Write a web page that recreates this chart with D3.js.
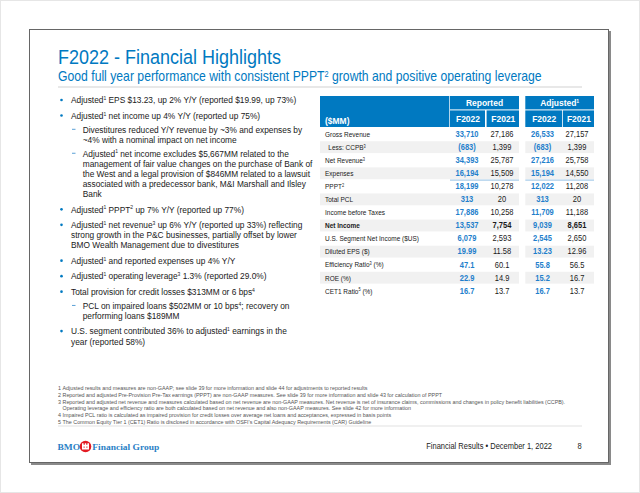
<!DOCTYPE html>
<html><head><meta charset="utf-8">
<script src="https://cdn.jsdelivr.net/npm/d3@7"></script>
<style>
html,body{margin:0;padding:0;background:#fff;}
svg{display:block;}
</style></head>
<body><svg id="c" width="640" height="493"></svg>
<script>
// ---------- DATA ----------
const titleText = "F2022 - Financial Highlights";
const subtitleText = "Good full year performance with consistent PPPT^2 growth and positive operating leverage";

const bulletLevels = [0,0,1,1,0,0,0,0,0,1,0];
const bulletLines = [
  ["Adjusted^1 EPS $13.23, up 2% Y/Y (reported $19.99, up 73%)"],
  ["Adjusted^1 net income up 4% Y/Y (reported up 75%)"],
  ["Divestitures reduced Y/Y revenue by ~3% and expenses by","~4% with a nominal impact on net income"],
  ["Adjusted^1 net income excludes $5,667MM related to the","management of fair value changes on the purchase of Bank of","the West and a legal provision of $846MM related to a lawsuit","associated with a predecessor bank, M&I Marshall and Ilsley","Bank"],
  ["Adjusted^1 PPPT^2 up 7% Y/Y (reported up 77%)"],
  ["Adjusted^1 net revenue^3 up 6% Y/Y (reported up 33%) reflecting","strong growth in the P&C businesses, partially offset by lower","BMO Wealth Management due to divestitures"],
  ["Adjusted^1 and reported expenses up 4% Y/Y"],
  ["Adjusted^1 operating leverage^3 1.3% (reported 29.0%)"],
  ["Total provision for credit losses $313MM or 6 bps^4"],
  ["PCL on impaired loans $502MM or 10 bps^4; recovery on","performing loans $189MM"],
  ["U.S. segment contributed 36% to adjusted^1 earnings in the","year (reported 58%)"]
];

const groupLabels = ["Reported","Adjusted^1"];
const yearLabels = ["F2022","F2021"];
const unitLabel = "($MM)";
const rowLabels = ["Gross Revenue","Less: CCPB^3","Net Revenue^3","Expenses","PPPT^2","Total PCL","Income before Taxes","Net Income","U.S. Segment Net Income ($US)","Diluted EPS ($)","Efficiency Ratio^3 (%)","ROE (%)","CET1 Ratio^5 (%)"];
const rowKinds = ["mm","mm","mm","mm","mm","mm","mm","mm","mm","eps","pct","pct","pct"];
const reportedF2022 = [33710,-683,34393,16194,18199,313,17886,13537,6079,19.99,47.1,22.9,16.7];
const reportedF2021 = [27186,1399,25787,15509,10278,20,10258,7754,2593,11.58,60.1,14.9,13.7];
const adjustedF2022 = [26533,-683,27216,15194,12022,313,11709,9039,2545,13.23,55.8,15.2,16.7];
const adjustedF2021 = [27157,1399,25758,14550,11208,20,11188,8651,2650,12.96,56.5,16.7,13.7];

const footnoteNums = ["1","2","3","","4","5"];
const footnoteLines = [
  "Adjusted results and measures are non-GAAP; see slide 39 for more information and slide 44 for adjustments to reported results",
  "Reported and adjusted Pre-Provision Pre-Tax earnings (PPPT) are non-GAAP measures. See slide 39 for more information and slide 43 for calculation of PPPT",
  "Reported and adjusted net revenue and measures calculated based on net revenue are non-GAAP measures. Net revenue is net of insurance claims, commissions and changes in policy benefit liabilities (CCPB).",
  "Operating leverage and efficiency ratio are both calculated based on net revenue and also non-GAAP measures. See slide 42 for more information",
  "Impaired PCL ratio is calculated as impaired provision for credit losses over average net loans and acceptances, expressed in basis points",
  "The Common Equity Tier 1 (CET1) Ratio is disclosed in accordance with OSFI\u2019s Capital Adequacy Requirements (CAR) Guideline"
];
const footerLeft = ["BMO","Financial Group"];
const footerRight = "Financial Results \u2022 December 1, 2022";
const pageNumber = "8";

// ---------- DRAW ----------
const BLUE = "#0079c1";
const SANS = "Liberation Sans, Arial, sans-serif";
const SERIF = "Liberation Serif, Times New Roman, serif";
const svg = d3.select("#c");

function fillRich(sel, str, size){
  str.split(/(\^\d)/).forEach(p=>{
    if(!p) return;
    if(p[0]==="^") sel.append("tspan").attr("baseline-shift","super").attr("font-size", size*0.6).text(p.slice(1));
    else sel.append("tspan").text(p);
  });
}
function measure(str, size, weight, family){
  const t = svg.append("text").attr("font-family",family||SANS).attr("font-size",size).attr("font-weight",weight||"normal");
  fillRich(t, str, size);
  const w = t.node().getComputedTextLength();
  t.remove();
  return w;
}
function fitK(str, size, weight, target, family){ return target / measure(str,size,weight,family); }
// text drawn condensed horizontally by factor k
function T(str, o){
  const t = svg.append("text")
    .attr("transform",`translate(${o.x},${o.y}) scale(${o.k||1},1)`)
    .attr("font-family",o.family||SANS).attr("font-size",o.size)
    .attr("font-weight",o.weight||"normal").attr("fill",o.fill||"#1a1a1a")
    .attr("text-anchor",o.anchor||"start");
  fillRich(t, str, o.size);
  return t;
}

// page frame
svg.append("rect").attr("x",0.5).attr("y",0.5).attr("width",639).attr("height",492).attr("fill","#fff").attr("stroke","#e6e6e6");
svg.append("rect").attr("x",31).attr("y",31).attr("width",580).attr("height",434).attr("fill","#8a8a8a");
svg.append("rect").attr("x",29.5).attr("y",29.5).attr("width",579).attr("height",433).attr("fill","#fff").attr("stroke","#666");

// title + subtitle
const kTitle = fitK(titleText, 19.5, "normal", 223);
T(titleText, {x:58, y:64, size:19.5, k:kTitle, fill:BLUE});
const kSub = fitK(subtitleText, 14, "normal", 484);
T(subtitleText, {x:58, y:81, size:14, k:kSub, fill:BLUE});
svg.append("line").attr("x1",58).attr("x2",582).attr("y1",87).attr("y2",87).attr("stroke","#e8e8e8").attr("stroke-width",2);

// bullets
const bSize = 9.4;
const kB = fitK(bulletLines[0][0], bSize, "normal", 225);
let y = 100;
bulletLines.forEach((lines,i)=>{
  const lvl = bulletLevels[i];
  if(i>0) y += (lvl===0 ? 15.5 : 13.8);
  if(lvl===0) svg.append("circle").attr("cx",61.5).attr("cy",y).attr("r",1.3).attr("fill",BLUE);
  else svg.append("line").attr("x1",72).attr("x2",75.5).attr("y1",y).attr("y2",y).attr("stroke","#5aa0d6").attr("stroke-width",1);
  lines.forEach((ln,j)=>{
    T(ln, {x: lvl===0?71:82.7, y: y+3.3, size:bSize, k:kB});
    if(j<lines.length-1) y += 10.15;
  });
});

// table
const rowIdx = d3.range(rowLabels.length);
const yRow = d3.scaleBand().domain(rowIdx).range([127.6, 297.3]);
const cols = ["rep22","rep21","adj22","adj21"];
const colData = {rep22:reportedF2022, rep21:reportedF2021, adj22:adjustedF2022, adj21:adjustedF2021};
const xCenter = d3.scaleOrdinal().domain(cols).range([467,502,542.5,577]);
const xLeft = d3.scaleOrdinal().domain(cols).range([450,486.6,525.3,562.8]);
const xRight = d3.scaleOrdinal().domain(cols).range([485,519,562,594]);
const groupX = d3.scaleOrdinal().domain(groupLabels).range([[450,519],[525.3,594]]);

const fmtInt = d3.format(",");
function fmt(v,kind){
  if(kind==="eps") return d3.format(".2f")(v);
  if(kind==="pct") return d3.format(".1f")(v);
  return v<0 ? "("+fmtInt(-v)+")" : fmtInt(v);
}

const hSize = 8.2;
const kH = fitK("F2022", hSize, "bold", 24);
svg.append("rect").attr("x",320).attr("y",96).attr("width",129.3).attr("height",31).attr("fill",BLUE);
T(unitLabel, {x:325, y:123.5, size:hSize, weight:"bold", fill:"#fff", k:kH});
groupLabels.forEach(g=>{
  const [a,b] = groupX(g);
  svg.append("rect").attr("x",a).attr("y",96).attr("width",b-a).attr("height",13.4).attr("fill",BLUE);
  T(g, {x:(a+b)/2, y:105.8, size:hSize, weight:"bold", fill:"#fff", anchor:"middle", k:kH});
});
cols.forEach((c,i)=>{
  svg.append("rect").attr("x",xLeft(c)).attr("y",110.4).attr("width",xRight(c)-xLeft(c)).attr("height",16.6).attr("fill",BLUE);
  T(yearLabels[i%2], {x:(xLeft(c)+xRight(c))/2+0.5, y:122.3, size:hSize, weight:"bold", fill:"#fff", anchor:"middle", k:kH});
});

rowIdx.filter(i=>i%2===1).forEach(i=>{
  svg.append("rect").attr("x",320).attr("y",yRow(i)+0.6).attr("width",199).attr("height",yRow.bandwidth()-1.2).attr("fill","#f1f1f1");
  svg.append("rect").attr("x",525.3).attr("y",yRow(i)+0.6).attr("width",68.7).attr("height",yRow.bandwidth()-1.2).attr("fill","#f1f1f1");
});
const expIdx = rowLabels.indexOf("Expenses");
groupLabels.forEach(g=>{
  const [a,b] = groupX(g);
  const ly = yRow(expIdx)+yRow.bandwidth()+0.3;
  svg.append("line").attr("x1",a).attr("x2",b).attr("y1",ly).attr("y2",ly).attr("stroke","#a9cdea").attr("stroke-width",1.3);
});

const lSize = 7.9;
const kL = fitK("Gross Revenue", lSize, "normal", 45);
const nSize = 8.3;
const kN = fitK("33,710", nSize, "bold", 23);
rowIdx.forEach(i=>{
  const cy = yRow(i)+yRow.bandwidth()/2 + 2.8;
  const bold = rowLabels[i]==="Net Income";
  T(rowLabels[i], {x: i===1?328.3:325, y:cy, size:lSize, k:kL, weight: bold?"bold":"normal"});
  cols.forEach(c=>{
    const is22 = c.endsWith("22");
    T(fmt(colData[c][i], rowKinds[i]), {x:xCenter(c), y: cy + (i===10 ? 1 : 0), size:nSize, k:kN, anchor:"middle",
      weight:(is22||bold)?"bold":"normal", fill: is22 ? "#1f7fcc" : "#1a1a1a"});
  });
});

// footnotes
const fSize = 5.6;
const kF = fitK(footnoteLines[0], fSize, "normal", 305);
const fy = d3.scaleLinear().domain([0,5]).range([389.8,424.1]);
footnoteLines.forEach((ln,i)=>{
  if(footnoteNums[i]) T(footnoteNums[i], {x:58, y:fy(i), size:fSize, k:kF, fill:"#555"});
  T(ln, {x:62.5, y:fy(i), size:fSize, k:kF, fill:"#555"});
});
svg.append("line").attr("x1",58).attr("x2",582).attr("y1",426).attr("y2",426).attr("stroke","#e2e2e2").attr("stroke-width",1.2);

// footer
const kS = fitK(footerLeft[1], 8.6, "bold", 67, SERIF);
T(footerLeft[0], {x:57.5, y:449.5, size:8.6, weight:"bold", family:SERIF, fill:"#2a7fc6", k:kS});
svg.append("circle").attr("cx",85.5).attr("cy",446.5).attr("r",5.8).attr("fill","#e31b23");
svg.append("path").attr("d","M82,449.5 L82,443.2 L83.6,443.2 L83.6,444.8 L84.8,444.8 L84.8,443.2 L86.2,443.2 L86.2,444.8 L87.4,444.8 L87.4,443.2 L89,443.2 L89,449.5 Z M83.6,446.6 L83.6,447.8 L84.6,447.8 L84.6,446.6 Z M86.4,446.6 L86.4,447.8 L87.4,447.8 L87.4,446.6 Z").attr("fill","#fff").attr("fill-rule","evenodd");
T(footerLeft[1], {x:92.3, y:449.5, size:8.6, weight:"bold", family:SERIF, fill:"#2a7fc6", k:kS});
const kR = fitK(footerRight, 9, "normal", 126);
T(footerRight, {x:552, y:449, size:9, anchor:"end", k:kR, fill:"#222"});
T(pageNumber, {x:579.5, y:449, size:9, anchor:"middle", k:kR, fill:"#222"});
</script></body></html>
